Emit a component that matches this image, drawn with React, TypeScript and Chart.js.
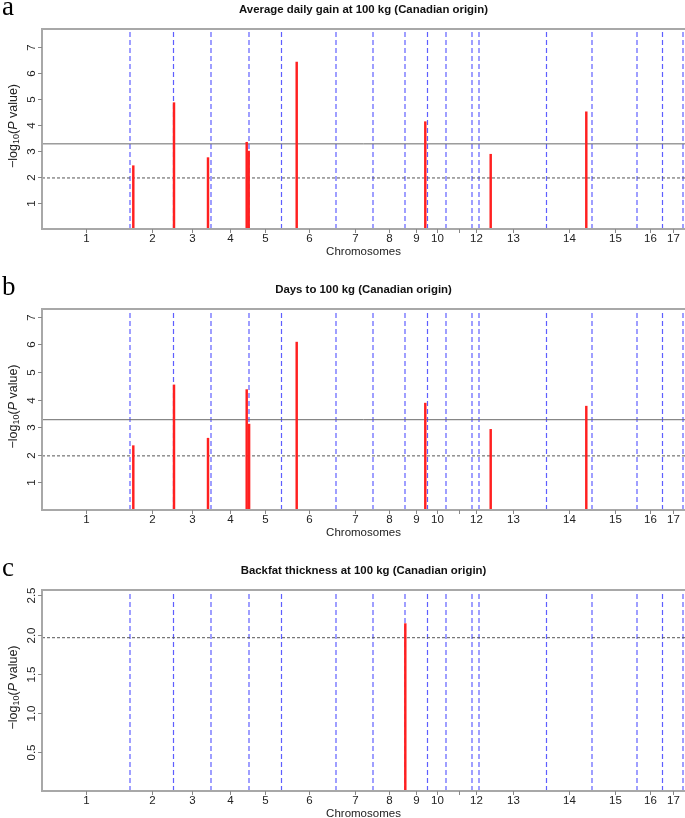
import React, { useEffect, useRef } from 'react';
import { Chart, registerables } from 'chart.js';

Chart.register(...registerables);

// ---------- data ----------
const CHR_LABELS = ['1', '2', '3', '4', '5', '6', '7', '8', '9', '10', '11', '12', '13', '14', '15', '16', '17', '18'];
const CHR_LENGTHS = [88, 43.5, 37.5, 38, 32.5, 54.5, 37, 32, 22.5, 18.5, 26, 7, 67.5, 45.5, 45, 25.5, 20.5, 30];
const HIDDEN_LABELS = ['11', '18'];
const X_MAX = 643;

const THRESHOLD_SIGNIFICANT = 3.27;
const THRESHOLD_SUGGESTIVE = 1.96;

const A_TITLE = 'Average daily gain at 100 kg (Canadian origin)';
const A_CHR = ['2', '3', '3', '4', '4', '6', '9', '13', '14'];
const A_POS = [3.3, 0.5, 34.5, 35.7, 37.7, 15.2, 20.3, 11.7, 39.8];
const A_VAL = [2.43, 4.85, 2.74, 3.33, 2.99, 6.41, 4.12, 2.87, 4.5];
const A_YMAX = 7.68;
const A_TICKS = [1, 2, 3, 4, 5, 6, 7];

const B_TITLE = 'Days to 100 kg (Canadian origin)';
const B_CHR = ['2', '3', '3', '4', '4', '6', '9', '13', '14'];
const B_POS = [3.3, 0.5, 34.5, 35.7, 38.1, 15.2, 20.3, 11.7, 39.8];
const B_VAL = [2.33, 4.53, 2.6, 4.36, 3.11, 6.08, 3.87, 2.92, 3.76];
const B_YMAX = 7.28;
const B_TICKS = [1, 2, 3, 4, 5, 6, 7];

const C_TITLE = 'Backfat thickness at 100 kg (Canadian origin)';
const C_CHR = ['9'];
const C_POS = [0.3];
const C_VAL = [2.14];
const C_YMAX = 2.57;
const C_TICKS = [0.5, 1.0, 1.5, 2.0, 2.5];

// ---------- helpers ----------
const chrStarts: number[] = [];
{
  let acc = 0;
  for (const len of CHR_LENGTHS) {
    chrStarts.push(acc);
    acc += len;
  }
}
const chrStart = (c: string) => chrStarts[CHR_LABELS.indexOf(c)];
const chrCenter = (i: number) => chrStarts[i] + CHR_LENGTHS[i] / 2;
const boundaries = chrStarts.slice(1);

const SANS = '"Liberation Sans", Arial, sans-serif';

function makeDecor(p: any) {
  return {
    id: 'decor' + p.letter,
    afterDatasetsDraw(chart: any) {
      const ctx = chart.ctx;
      const { left, right, top, bottom } = chart.chartArea;
      const xs = chart.scales.x;
      const ys = chart.scales.y;
      ctx.save();
      // frame
      ctx.strokeStyle = '#a8a8a8';
      ctx.lineWidth = 2;
      ctx.setLineDash([]);
      ctx.beginPath();
      ctx.moveTo(right + 2, top);
      ctx.lineTo(left, top);
      ctx.lineTo(left, bottom);
      ctx.lineTo(right + 2, bottom);
      ctx.stroke();

      // y ticks
      ctx.lineWidth = 1;
      ctx.strokeStyle = '#888';
      ctx.fillStyle = '#222';
      ctx.font = `11.5px ${SANS}`;
      ctx.textAlign = 'center';
      ctx.textBaseline = 'middle';
      for (const v of p.ticks) {
        const py = Math.round(ys.getPixelForValue(v)) + 0.5;
        ctx.beginPath();
        ctx.moveTo(left - 4, py);
        ctx.lineTo(left, py);
        ctx.stroke();
        ctx.save();
        ctx.translate(left - 10.5, py);
        ctx.rotate(-Math.PI / 2);
        ctx.fillText(p.tickFmt(v), 0, 0);
        ctx.restore();
      }

      // x ticks
      CHR_LABELS.forEach((lab, i) => {
        const c = chrCenter(i);
        if (c > X_MAX) return;
        const px = Math.round(xs.getPixelForValue(c)) + 0.5;
        ctx.beginPath();
        ctx.moveTo(px, bottom);
        ctx.lineTo(px, bottom + 4);
        ctx.stroke();
        if (!HIDDEN_LABELS.includes(lab)) {
          ctx.fillText(lab, px, bottom + 10);
        }
      });

      // x title
      ctx.font = `11.5px ${SANS}`;
      ctx.fillText('Chromosomes', (left + right) / 2, bottom + 23);

      // y title
      ctx.save();
      ctx.translate(13.5, (top + bottom) / 2 - 3);
      ctx.rotate(-Math.PI / 2);
      const parts = [
        { t: '\u2212log', f: `12.5px ${SANS}`, dy: 0 },
        { t: '10', f: `9px ${SANS}`, dy: 3 },
        { t: '(', f: `12.5px ${SANS}`, dy: 0 },
        { t: 'P', f: `italic 12.5px ${SANS}`, dy: 0 },
        { t: ' value)', f: `12.5px ${SANS}`, dy: 0 },
      ];
      let total = 0;
      for (const pt of parts) {
        ctx.font = pt.f;
        total += ctx.measureText(pt.t).width;
      }
      let cx = -total / 2;
      ctx.textAlign = 'left';
      for (const pt of parts) {
        ctx.font = pt.f;
        ctx.fillText(pt.t, cx, pt.dy);
        cx += ctx.measureText(pt.t).width;
      }
      ctx.restore();

      // title
      ctx.textAlign = 'center';
      ctx.fillStyle = '#111';
      ctx.font = `bold 11.4px ${SANS}`;
      ctx.fillText(p.title, (left + right) / 2, top - 19.5);

      // panel letter
      ctx.fillStyle = '#000';
      ctx.textAlign = 'left';
      ctx.textBaseline = 'alphabetic';
      ctx.font = `27px "Liberation Serif", "Times New Roman", serif`;
      ctx.fillText(p.letter, 2, top - 14);
      ctx.restore();
    },
  };
}

function Panel(p: any) {
  const ref = useRef<HTMLCanvasElement>(null);
  useEffect(() => {
    const canvas = ref.current!;
    const bars = p.chr.map((c: string, i: number) => ({ x: chrStart(c) + p.pos[i], y: p.val[i] }));
    const datasets: any[] = [];
    boundaries.forEach((b) => {
      datasets.push({
        type: 'line',
        data: [{ x: b, y: 0 }, { x: b, y: p.ymax }],
        borderColor: 'rgba(40, 40, 255, 0.75)',
        borderWidth: 1.2,
        borderDash: [5, 3],
        pointRadius: 0,
        order: 5,
      });
    });
    datasets.push({
      type: 'line',
      data: [{ x: 0, y: THRESHOLD_SIGNIFICANT }, { x: X_MAX, y: THRESHOLD_SIGNIFICANT }],
      borderColor: '#6a6a6a',
      borderWidth: 1,
      pointRadius: 0,
      order: 4,
    });
    datasets.push({
      type: 'line',
      data: [{ x: 0, y: THRESHOLD_SUGGESTIVE }, { x: X_MAX, y: THRESHOLD_SUGGESTIVE }],
      borderColor: '#555',
      borderWidth: 1,
      borderDash: [3, 2],
      pointRadius: 0,
      order: 4,
    });
    datasets.push({
      type: 'bar',
      data: bars,
      backgroundColor: '#ff2020',
      borderWidth: 0,
      barThickness: 1.8,
      order: 1,
    });
    const chart = new Chart(canvas, {
      type: 'bar',
      data: { datasets },
      options: {
        animation: false,
        responsive: false,
        devicePixelRatio: 1,
        layout: { padding: p.padding },
        plugins: { legend: { display: false }, tooltip: { enabled: false } },
        scales: {
          x: { type: 'linear', min: 0, max: X_MAX, display: false, offset: false },
          y: { type: 'linear', min: 0, max: p.ymax, display: false },
        },
      },
      plugins: [makeDecor(p)],
    } as any);
    return () => chart.destroy();
  }, []);
  return <canvas ref={ref} width={685} height={p.height} style={{ display: 'block', width: 685, height: p.height }} />;
}

export default function App() {
  useEffect(() => {
    document.body.style.margin = '0';
    document.body.style.overflow = 'hidden';
    document.body.style.background = '#fff';
  }, []);
  const intFmt = (v: number) => String(v);
  const decFmt = (v: number) => v.toFixed(1);
  return (
    <div style={{ width: 685, height: 818, background: '#fff' }}>
      <Panel letter="a" title={A_TITLE} chr={A_CHR} pos={A_POS} val={A_VAL} ymax={A_YMAX} ticks={A_TICKS} tickFmt={intFmt}
        height={272} padding={{ left: 42, top: 29, right: 0, bottom: 43 }} />
      <Panel letter="b" title={B_TITLE} chr={B_CHR} pos={B_POS} val={B_VAL} ymax={B_YMAX} ticks={B_TICKS} tickFmt={intFmt}
        height={276} padding={{ left: 42, top: 37, right: 0, bottom: 38 }} />
      <Panel letter="c" title={C_TITLE} chr={C_CHR} pos={C_POS} val={C_VAL} ymax={C_YMAX} ticks={C_TICKS} tickFmt={decFmt}
        height={270} padding={{ left: 42, top: 42, right: 0, bottom: 27 }} />
    </div>
  );
}
